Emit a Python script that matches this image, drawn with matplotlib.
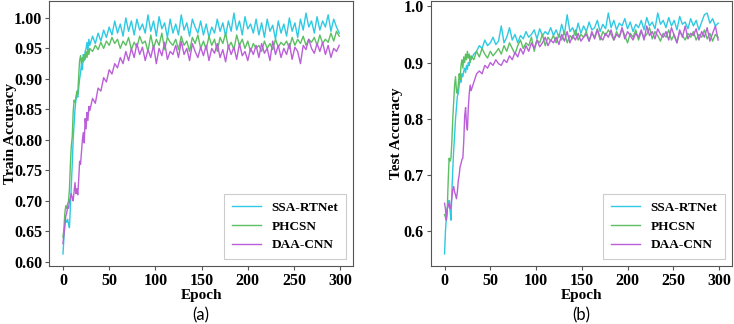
import matplotlib
matplotlib.use("Agg")
import matplotlib.pyplot as plt

# epochs: every epoch up to 29, then every 3rd epoch
EPOCHS = list(range(0, 29)) + list(range(29, 300, 3))

LABELS = ["SSA-RTNet", "PHCSN", "DAA-CNN"]
COLORS = ["#2ec9e2", "#5cbf62", "#bb5fd9"]

# ---------- (a) train accuracy ----------
train_ssa = [
    0.613, 0.640, 0.662, 0.668, 0.665, 0.670, 0.662, 0.656, 0.690, 0.725,
    0.760, 0.800, 0.825, 0.850, 0.865, 0.875, 0.870, 0.885, 0.900, 0.910,
    0.925, 0.915, 0.940, 0.930, 0.945, 0.950, 0.960, 0.945, 0.965, 0.955,
    0.970, 0.958, 0.975, 0.962, 0.980, 0.968, 0.985, 0.972, 0.995, 0.975,
    0.990, 0.970, 1.000, 0.978, 0.995, 0.972, 0.998, 0.980, 0.990, 0.975,
    1.005, 0.978, 0.995, 0.970, 1.002, 0.982, 0.992, 0.968, 0.998, 0.975,
    0.990, 0.972, 1.005, 0.980, 0.992, 0.970, 0.998, 0.985, 0.975, 0.995,
    0.972, 0.990, 0.968, 0.985, 0.975, 0.998, 0.978, 0.992, 0.970, 0.995,
    0.978, 1.008, 0.980, 0.995, 0.972, 1.002, 0.982, 0.990, 0.975, 0.998,
    0.972, 0.992, 0.968, 0.998, 0.978, 0.988, 0.965, 0.995, 0.975, 0.990,
    0.970, 1.000, 0.978, 0.992, 0.968, 0.998, 0.980, 1.008, 0.985, 0.995,
    0.975, 1.002, 0.980, 0.995, 0.985, 1.005, 0.978, 0.998, 0.985, 0.975,
]
train_phcsn = [
    0.640, 0.655, 0.680, 0.692, 0.688, 0.695, 0.700, 0.720, 0.760, 0.790,
    0.805, 0.845, 0.865, 0.862, 0.870, 0.880, 0.875, 0.905, 0.930, 0.938,
    0.925, 0.935, 0.928, 0.940, 0.932, 0.945, 0.935, 0.948, 0.940, 0.950,
    0.945, 0.955, 0.948, 0.960, 0.950, 0.962, 0.955, 0.968, 0.958, 0.965,
    0.950, 0.962, 0.955, 0.968, 0.948, 0.960, 0.952, 0.970, 0.958, 0.962,
    0.945, 0.972, 0.950, 0.965, 0.955, 0.975, 0.948, 0.968, 0.960, 0.955,
    0.965, 0.948, 0.970, 0.955, 0.962, 0.945, 0.968, 0.958, 0.972, 0.950,
    0.962, 0.948, 0.970, 0.955, 0.965, 0.945, 0.968, 0.958, 0.975, 0.952,
    0.960, 0.948, 0.972, 0.955, 0.965, 0.950, 0.962, 0.945, 0.958, 0.950,
    0.955, 0.945, 0.962, 0.950, 0.958, 0.948, 0.965, 0.952, 0.960, 0.955,
    0.962, 0.950, 0.968, 0.955, 0.965, 0.958, 0.970, 0.955, 0.965, 0.960,
    0.968, 0.955, 0.972, 0.958, 0.965, 0.960, 0.975, 0.962, 0.978, 0.970,
]
train_daa = [
    0.630, 0.645, 0.660, 0.675, 0.680, 0.690, 0.688, 0.700, 0.705, 0.712,
    0.705, 0.700, 0.715, 0.730, 0.712, 0.720, 0.710, 0.735, 0.765, 0.760,
    0.780, 0.800, 0.812, 0.795, 0.835, 0.818, 0.845, 0.832, 0.855, 0.848,
    0.868, 0.860, 0.885, 0.880, 0.902, 0.895, 0.915, 0.908, 0.925, 0.918,
    0.935, 0.925, 0.945, 0.930, 0.950, 0.935, 0.958, 0.940, 0.952, 0.930,
    0.948, 0.935, 0.955, 0.925, 0.950, 0.938, 0.960, 0.932, 0.945, 0.940,
    0.955, 0.935, 0.962, 0.940, 0.950, 0.930, 0.958, 0.945, 0.935, 0.952,
    0.938, 0.955, 0.930, 0.950, 0.942, 0.958, 0.935, 0.948, 0.928, 0.955,
    0.940, 0.952, 0.932, 0.958, 0.938, 0.945, 0.930, 0.950, 0.940, 0.955,
    0.935, 0.958, 0.942, 0.950, 0.930, 0.962, 0.940, 0.955, 0.935, 0.950,
    0.940, 0.958, 0.932, 0.952, 0.945, 0.925, 0.955, 0.948, 0.965, 0.950,
    0.942, 0.958, 0.945, 0.960, 0.940, 0.955, 0.935, 0.950, 0.945, 0.955,
]

# ---------- (b) test accuracy ----------
test_ssa = [
    0.560, 0.600, 0.625, 0.640, 0.650, 0.655, 0.640, 0.620, 0.670, 0.710,
    0.745, 0.770, 0.800, 0.820, 0.840, 0.845, 0.860, 0.870, 0.865, 0.880,
    0.875, 0.885, 0.890, 0.882, 0.895, 0.888, 0.900, 0.895, 0.910, 0.905,
    0.915, 0.920, 0.930, 0.925, 0.940, 0.930, 0.935, 0.945, 0.932, 0.938,
    0.965, 0.935, 0.945, 0.962, 0.940, 0.950, 0.935, 0.948, 0.942, 0.955,
    0.945, 0.950, 0.958, 0.942, 0.960, 0.948, 0.955, 0.950, 0.962, 0.948,
    0.958, 0.945, 0.968, 0.950, 0.985, 0.955, 0.962, 0.948, 0.970, 0.952,
    0.965, 0.955, 0.972, 0.958, 0.962, 0.975, 0.955, 0.968, 0.960, 0.988,
    0.962, 0.975, 0.958, 0.970, 0.965, 0.978, 0.960, 0.972, 0.955, 0.968,
    0.962, 0.975, 0.958, 0.980, 0.965, 0.972, 0.960, 0.988, 0.968, 0.975,
    0.962, 0.980, 0.965, 0.975, 0.958, 0.982, 0.968, 0.972, 0.960, 0.978,
    0.965, 0.975, 0.958, 0.972, 0.985, 0.988, 0.970, 0.978, 0.965, 0.970,
]
test_phcsn = [
    0.630, 0.625, 0.620, 0.640, 0.690, 0.730, 0.725, 0.730, 0.760, 0.800,
    0.830, 0.860, 0.875, 0.850, 0.845, 0.860, 0.880, 0.870, 0.895, 0.905,
    0.890, 0.910, 0.900, 0.915, 0.905, 0.920, 0.908, 0.915, 0.900, 0.912,
    0.905, 0.920, 0.910, 0.925, 0.915, 0.908, 0.920, 0.912, 0.918, 0.925,
    0.915, 0.930, 0.920, 0.935, 0.925, 0.915, 0.930, 0.940, 0.925, 0.935,
    0.930, 0.945, 0.920, 0.940, 0.935, 0.950, 0.930, 0.945, 0.938, 0.948,
    0.935, 0.950, 0.940, 0.955, 0.935, 0.948, 0.942, 0.958, 0.940, 0.950,
    0.945, 0.955, 0.938, 0.952, 0.945, 0.960, 0.940, 0.955, 0.948, 0.958,
    0.950, 0.940, 0.955, 0.945, 0.960, 0.948, 0.935, 0.952, 0.945, 0.958,
    0.940, 0.955, 0.945, 0.950, 0.962, 0.942, 0.955, 0.948, 0.938, 0.952,
    0.945, 0.958, 0.940, 0.950, 0.935, 0.955, 0.948, 0.940, 0.952, 0.945,
    0.955, 0.940, 0.950, 0.945, 0.958, 0.942, 0.952, 0.938, 0.950, 0.945,
]
test_daa = [
    0.650, 0.640, 0.620, 0.640, 0.645, 0.650, 0.640, 0.645, 0.660, 0.675,
    0.680, 0.670, 0.665, 0.658, 0.670, 0.690, 0.700, 0.715, 0.720, 0.728,
    0.730, 0.760, 0.805, 0.820, 0.790, 0.780, 0.820, 0.845, 0.860, 0.850,
    0.865, 0.880, 0.885, 0.880, 0.895, 0.890, 0.900, 0.895, 0.905, 0.898,
    0.895, 0.905, 0.900, 0.912, 0.905, 0.918, 0.910, 0.925, 0.915, 0.930,
    0.920, 0.935, 0.925, 0.940, 0.928, 0.935, 0.945, 0.930, 0.940, 0.935,
    0.945, 0.932, 0.950, 0.938, 0.955, 0.935, 0.948, 0.940, 0.952, 0.938,
    0.945, 0.950, 0.938, 0.955, 0.942, 0.958, 0.945, 0.940, 0.952, 0.945,
    0.958, 0.940, 0.950, 0.945, 0.962, 0.942, 0.955, 0.948, 0.940, 0.952,
    0.945, 0.958, 0.940, 0.965, 0.948, 0.955, 0.942, 0.960, 0.950, 0.945,
    0.955, 0.940, 0.962, 0.948, 0.935, 0.958, 0.945, 0.965, 0.942, 0.952,
    0.948, 0.960, 0.940, 0.955, 0.945, 0.962, 0.938, 0.952, 0.965, 0.940,
]

SERIF = ["Liberation Serif", "DejaVu Serif"]

fig = plt.figure(figsize=(7.34, 3.24), dpi=100)
ax1 = fig.add_axes([0.067, 0.179, 0.414, 0.818])
ax2 = fig.add_axes([0.587, 0.179, 0.410, 0.818])

panels = [
    (ax1, [train_ssa, train_phcsn, train_daa], "Train Accuracy", "(a)",
     [0.60, 0.65, 0.70, 0.75, 0.80, 0.85, 0.90, 0.95, 1.00], "{:.2f}", -0.107),
    (ax2, [test_ssa, test_phcsn, test_daa], "Test Accuracy", "(b)",
     [0.6, 0.7, 0.8, 0.9, 1.0], "{:.1f}", -0.093),
]

for ax, series, ylabel, tag, yticks, fmt, ylab_x in panels:
    for vals, lab, col in zip(series, LABELS, COLORS):
        ax.plot(EPOCHS, vals, color=col, lw=1.0, label=lab)
    ax.set_yticks(yticks)
    ax.set_yticklabels([fmt.format(v) for v in yticks], family=SERIF,
                       fontweight="bold", fontsize=11.5)
    ax.set_xticks([0, 50, 100, 150, 200, 250, 300])
    ax.set_xticklabels(["0", "50", "100", "150", "200", "250", "300"],
                       family=SERIF, fontweight="bold", fontsize=11.5)
    ax.set_xlabel("Epoch", family=SERIF, fontweight="bold", fontsize=11,
                  labelpad=0)
    ax.set_ylabel(ylabel, family=SERIF, fontweight="bold", fontsize=11)
    ax.yaxis.set_label_coords(ylab_x, 0.5)
    for sp in ax.spines.values():
        sp.set_color("#555555")
    ax.tick_params(length=3, width=0.8, color="#555555", pad=2)
    leg = ax.legend(loc="lower right", prop={"family": SERIF, "weight": "bold",
                                             "size": 9.5},
                    handlelength=2.2, handletextpad=0.8, borderpad=0.6,
                    labelspacing=0.5, fancybox=False, framealpha=1)
    leg.get_frame().set_edgecolor("#cccccc")
    leg.get_frame().set_linewidth(0.8)
    ax.text(0.5, -0.155, tag, transform=ax.transAxes, ha="center", va="top",
            fontsize=12, family=["Lato", "DejaVu Sans"])

fig.savefig("out.png", dpi=100)
